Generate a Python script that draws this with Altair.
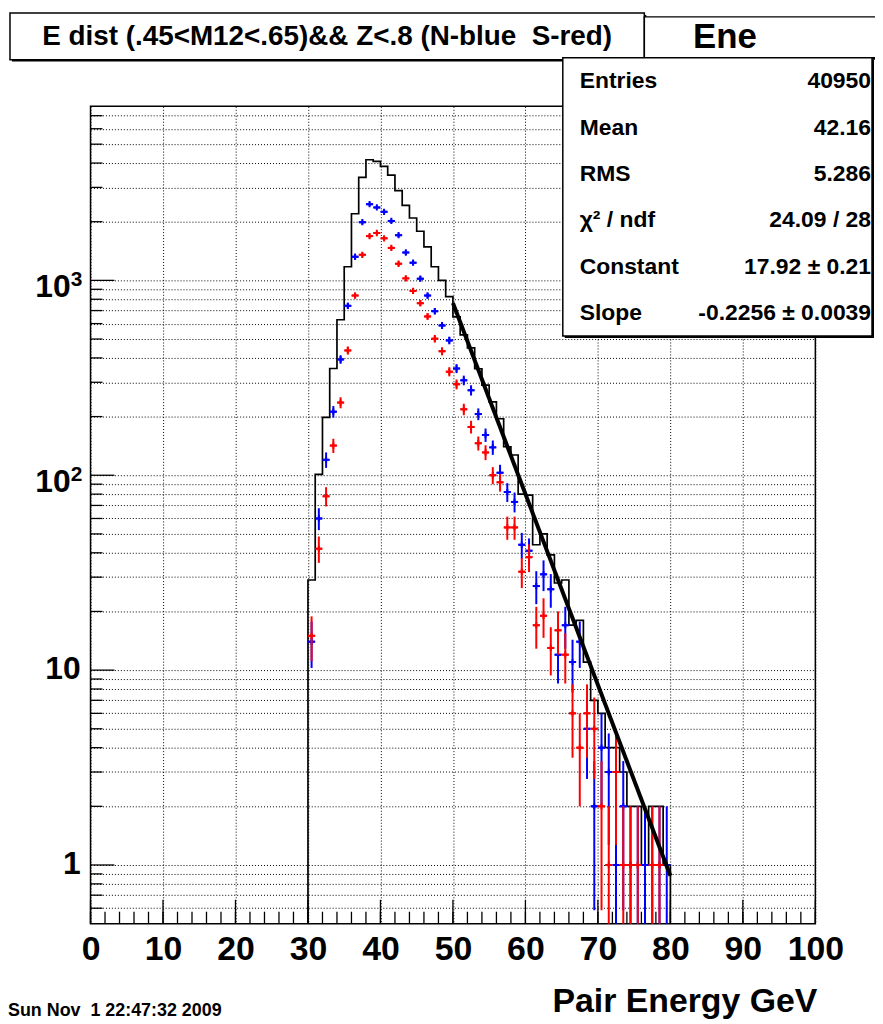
import altair as alt
import pandas as pd
import numpy as np

# ---------------- data ----------------
bin_lo = list(range(30, 80))  # bins of 1 GeV, 30..80
total = [29, 101, 198, 353, 628, 1175, 2197, 3380, 4160, 4080,
         3850, 3470, 2890, 2427, 2090, 1787, 1486, 1175, 1000, 826,
         650, 525, 450, 352, 290, 238, 195, 140, 127, 80,
         79, 44, 50, 39, 28, 29, 17, 18, 11, 7,
         6, 4, 4, 3, 2, 2, 1, 2, 2, 1]
north = [14, 60, 120, 212, 393, 740, 1322, 1988, 2460, 2367,
         2248, 2018, 1706, 1390, 1232, 1020, 836, 695, 587, 492,
         353, 307, 273, 206, 161, 139, 103, 82, 73, 44,
         41, 27, 31, 26, 12, 17, 11, 14, 5, 2,
         4, 3, 1, 2, 1, 1, 1, 1, 1, 1]
south = [15, 42, 78, 142, 236, 437, 836, 1353, 1687, 1750,
         1644, 1468, 1217, 1024, 883, 764, 653, 502, 433, 340,
         293, 218, 177, 146, 131, 100, 92, 54, 54, 32,
         38, 17, 19, 13, 16, 12, 6, 4, 6, 5,
         2, 1, 3, 1, 1, 1, 0, 1, 1, 0]
fit_x = [50, 80]
fit_y = [765.0, 0.880]

x_major = list(range(0, 101, 10))
x_minor = list(range(0, 101, 2))
y_major = [1, 10, 100, 1000]
y_major_base = ["1", "10", "10", "10"]
y_major_exp = ["", "", "2", "3"]
y_minor = [0.6, 0.7, 0.8, 0.9, 2, 3, 4, 5, 6, 7, 8, 9,
           20, 30, 40, 50, 60, 70, 80, 90,
           200, 300, 400, 500, 600, 700, 800, 900,
           2000, 3000, 4000, 5000, 6000, 7000]

title_text = "E dist (.45<M12<.65)&& Z<.8 (N-blue\u00a0 S-red)"
hist_name = "Ene"
stats_labels = ["Entries", "Mean", "RMS", "\u03c7\u00b2 / ndf", "Constant", "Slope"]
stats_values = ["40950", "42.16", "5.286", "24.09 / 28", "17.92 \u00b1 0.21", "-0.2256 \u00b1 0.0039"]
date_text = "Sun Nov\u00a0 1 22:47:32 2009"
x_title = "Pair Energy GeV"

# ---------------- layout ----------------
W, H = 729, 822
YMIN, YMAX = 0.5, 7816
FONT = "Liberation Sans"

xs = alt.Scale(domain=[0, 100], nice=False, zero=False)
ys = alt.Scale(type="log", domain=[YMIN, YMAX], nice=False, clamp=True)

x_axis = alt.Axis(values=x_major, title=None, grid=True, gridDash=[1, 2], gridColor="black",
                  gridWidth=1, gridOpacity=1, ticks=False, tickSize=0, domain=False,
                  labelFont=FONT, labelFontSize=34, labelFontWeight="bold", labelColor="black",
                  labelPadding=9, labelFlush=False, labelOverlap=False)
y_axis = alt.Axis(values=sorted(y_major + y_minor), title=None, grid=True, gridDash=[1, 2],
                  gridColor="black", gridWidth=1, gridOpacity=1, ticks=False, tickSize=0,
                  domain=False, labels=False)

# histogram outline (step)
hx, hy = [30], [YMIN]
for lo, v in zip(bin_lo, total):
    hx += [lo, lo + 1]
    hy += [v, v]
hx.append(80)
hy.append(YMIN)
hist_df = pd.DataFrame({"hx": hx, "hy": hy, "i": range(len(hx))})

hist = alt.Chart(hist_df).mark_line(color="black", strokeWidth=1.7, interpolate="linear").encode(
    x=alt.X("hx:Q", scale=xs, axis=x_axis),
    y=alt.Y("hy:Q", scale=ys, axis=y_axis),
    order="i:Q",
)

PLUS = "M-1,0L1,0M0,-1L0,1"


def err_layers(counts, color):
    rows = []
    for lo, n in zip(bin_lo, counts):
        if n <= 0:
            continue
        e = np.sqrt(n)
        rows.append({"c": lo + 0.5, "l": lo, "r": lo + 1, "n": n,
                     "elo": max(n - e, 0.05), "ehi": n + e})
    df = pd.DataFrame(rows)
    v = alt.Chart(df).mark_rule(color=color, strokeWidth=2).encode(
        x=alt.X("c:Q", scale=xs, axis=x_axis),
        y=alt.Y("elo:Q", scale=ys, axis=y_axis),
        y2="ehi:Q",
    )
    h = alt.Chart(df).mark_rule(color=color, strokeWidth=2).encode(
        x=alt.X("l:Q", scale=xs, axis=x_axis),
        x2="r:Q",
        y=alt.Y("n:Q", scale=ys, axis=y_axis),
    )
    m = alt.Chart(df).mark_point(shape=PLUS, size=40, filled=False, stroke=color,
                                 strokeWidth=2, opacity=1).encode(
        x=alt.X("c:Q", scale=xs, axis=x_axis),
        y=alt.Y("n:Q", scale=ys, axis=y_axis),
    )
    return [v, h, m]


fit_df = pd.DataFrame({"fx": fit_x, "fy": fit_y})
fit = alt.Chart(fit_df).mark_line(color="black", strokeWidth=4).encode(
    x=alt.X("fx:Q", scale=xs, axis=x_axis),
    y=alt.Y("fy:Q", scale=ys, axis=y_axis),
)

# tick marks (inward)
xmaj = alt.Chart(pd.DataFrame({"t": x_major})).mark_rule(color="black", strokeWidth=1.3).encode(
    x=alt.X("t:Q", scale=xs, axis=x_axis), y=alt.value(H), y2=alt.value(H - 24))
xmin = alt.Chart(pd.DataFrame({"t": x_minor})).mark_rule(color="black", strokeWidth=1.3).encode(
    x=alt.X("t:Q", scale=xs, axis=x_axis), y=alt.value(H), y2=alt.value(H - 12))
ymaj = alt.Chart(pd.DataFrame({"t": y_major})).mark_rule(color="black", strokeWidth=1.3).encode(
    y=alt.Y("t:Q", scale=ys, axis=y_axis), x=alt.value(0), x2=alt.value(24))
ymin_ = alt.Chart(pd.DataFrame({"t": y_minor})).mark_rule(color="black", strokeWidth=1.3).encode(
    y=alt.Y("t:Q", scale=ys, axis=y_axis), x=alt.value(0), x2=alt.value(12))

# y tick labels: base + superscript exponent
ylab_df = pd.DataFrame({"t": y_major, "base": y_major_base, "exp": y_major_exp})
ylab_plain = alt.Chart(ylab_df).transform_filter("datum.exp == ''").mark_text(
    font=FONT, fontSize=32, fontWeight="bold", color="black", align="right", baseline="middle",
    dy=-1).encode(y=alt.Y("t:Q", scale=ys, axis=y_axis), x=alt.value(-10), text="base:N")
ylab_base = alt.Chart(ylab_df).transform_filter("datum.exp != ''").mark_text(
    font=FONT, fontSize=32, fontWeight="bold", color="black", align="right", baseline="middle",
    dy=7).encode(y=alt.Y("t:Q", scale=ys, axis=y_axis), x=alt.value(-20), text="base:N")
ylab_exp = alt.Chart(ylab_df).transform_filter("datum.exp != ''").mark_text(
    font=FONT, fontSize=21, fontWeight="bold", color="black", align="left", baseline="middle",
    dy=0).encode(y=alt.Y("t:Q", scale=ys, axis=y_axis), x=alt.value(-20), text="exp:N")

one = pd.DataFrame({"k": [0]})


def box(x1, x2, y1, y2, sw=1.5):
    shadow = alt.Chart(one).mark_rect(fill="black").encode(
        x=alt.value(x1 + 2), x2=alt.value(x2 + 2), y=alt.value(y1 + 2), y2=alt.value(y2 + 2))
    face = alt.Chart(one).mark_rect(fill="white", stroke="black", strokeWidth=sw).encode(
        x=alt.value(x1), x2=alt.value(x2), y=alt.value(y1), y2=alt.value(y2))
    return [shadow, face]


def text(t, x, y, size, align="center", baseline="middle"):
    return alt.Chart(one).mark_text(text=t, font=FONT, fontSize=size, fontWeight="bold",
                                    color="black", align=align, baseline=baseline).encode(
        x=alt.value(x), y=alt.value(y))


deco = []
deco += box(-81, 557, -94, -47)
deco.append(text(title_text, 238, -70, 28))
deco += box(557, 800, -90, -49)
deco += box(475, 786, -49, 231)
deco.append(text(hist_name, 638, -70, 35))
for i, (lab, val) in enumerate(zip(stats_labels, stats_values)):
    yy = -25 + i * 46.6
    deco.append(text(lab, 492, yy, 23, align="left"))
    deco.append(text(val, 785, yy, 23, align="right"))
deco.append(text(date_text, -83, 910, 18, align="left"))
deco.append(text(x_title, 731, 901, 34, align="right"))

layers = ([hist] + err_layers(north, "#0000ff") + err_layers(south, "#ff0000") +
          [fit, xmaj, xmin, ymaj, ymin_, ylab_plain, ylab_base, ylab_exp] + deco)

chart = alt.layer(*layers).properties(
    width=W, height=H,
    autosize=alt.AutoSizeParams(type="none"),
    padding={"left": 83, "top": 96, "right": 60, "bottom": 98},
    background="white",
).configure_view(stroke="black", strokeWidth=1.5)

chart.save("out.html", embed_options={"renderer": "svg", "actions": False})
